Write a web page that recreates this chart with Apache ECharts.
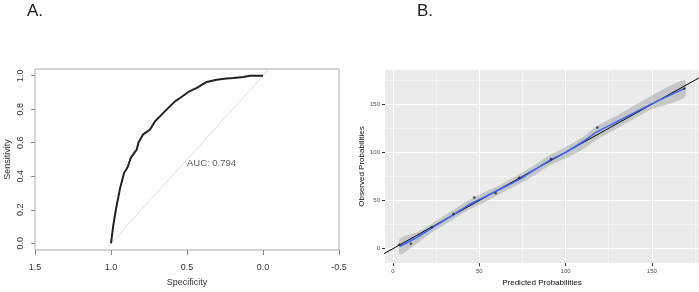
<!DOCTYPE html>
<html>
<head>
<meta charset="utf-8">
<script src="https://cdn.jsdelivr.net/npm/echarts@6/dist/echarts.min.js"></script>
<style>
  html, body { margin: 0; padding: 0; background: #fff; }
  #chart { width: 699px; height: 292px; }
</style>
</head>
<body>
<div id="chart"></div>
<script>
// A. ROC curve
const rocSpec = [1.0, 0.985, 0.967, 0.941, 0.914, 0.89, 0.87, 0.83, 0.82, 0.788, 0.743, 0.71, 0.667, 0.623, 0.579, 0.546, 0.491, 0.436, 0.37, 0.305, 0.24, 0.195, 0.13, 0.086, 0.0]
const rocSens = [0, 0.107, 0.206, 0.325, 0.42, 0.455, 0.51, 0.56, 0.6, 0.65, 0.679, 0.728, 0.768, 0.808, 0.847, 0.867, 0.903, 0.927, 0.963, 0.976, 0.984, 0.986, 0.992, 1.0, 1.0]
const chanceSpec = [1.04, -0.04]
const chanceSens = [-0.04, 1.04]
const sensTicks = [0, 0.2, 0.4, 0.6, 0.8, 1.0]
const aucPos = [0.5, 0.476]
const aucText = 'AUC: 0.794'

// B. calibration
const decPred = [3.7, 10.4, 22.5, 35, 47.1, 59.5, 73.2, 91.5, 118.4, 168.8]
const decObs = [4, 5, 22.3, 36, 53, 57.5, 73.5, 93.2, 125.8, 166.4]
const fitX = [4, 13.7, 23, 33, 43, 52, 62, 72, 81, 91, 99, 110, 118, 130, 149, 169]
const fitY = [2.5, 11.6, 22, 33, 44.5, 52.8, 61.7, 70.8, 80.7, 92, 99, 111, 121, 132, 149.5, 166.4]
const fitLo = [-6, 5.2, 17.4, 28.2, 39.6, 47.2, 56.8, 66, 75.2, 86.5, 93, 103, 113, 125, 144, 157]
const fitHi = [10.5, 16.8, 26.5, 38, 49.5, 57.8, 66, 75.9, 85.7, 97.3, 104.5, 116, 127, 138.5, 158, 175]
const idX = [-10, 190]
const majorTicks = [0, 50, 100, 150]
const minorTicks = [25, 75, 125, 175]

const chart = echarts.init(document.getElementById('chart'))
const zip = (a, b) => a.map((v, i) => [v, b[i]])

chart.setOption({
  animation: false,
  textStyle: { fontFamily: 'Liberation Sans, Arial, sans-serif' },
  title: [
    { text: 'A.', left: 22, top: -2, textStyle: { fontSize: 17, fontWeight: 'normal', color: '#222' } },
    { text: 'B.', left: 412, top: -2, textStyle: { fontSize: 17, fontWeight: 'normal', color: '#222' } },
  ],
  grid: [
    { left: 35, top: 69, width: 304, height: 181, show: true, borderColor: '#aaa', borderWidth: 1, backgroundColor: 'transparent' },
    { left: 385, top: 70, width: 314, height: 203, show: true, borderWidth: 0, backgroundColor: '#EBEBEB' },
  ],
  xAxis: [
    {
      gridIndex: 0, type: 'value', inverse: true, min: -0.5, max: 1.5, interval: 0.5,
      name: 'Specificity', nameLocation: 'middle', nameGap: 28,
      nameTextStyle: { fontSize: 9, color: '#333' },
      axisLine: { show: false, onZero: false },
      axisTick: { show: true, length: 5, lineStyle: { color: '#888' } },
      axisLabel: { fontSize: 9, color: '#333', margin: 13, formatter: v => v.toFixed(1) },
      splitLine: { show: false },
    },
    {
      gridIndex: 1, type: 'value', min: -4.6, max: 177.3,
      name: 'Predicted Probabilities', nameLocation: 'middle', nameGap: 11,
      nameTextStyle: { fontSize: 8, color: '#111' },
      axisLine: { show: false, onZero: false },
      axisTick: { show: true, length: 3, customValues: majorTicks, lineStyle: { color: '#333' } },
      axisLabel: { fontSize: 6, color: '#4D4D4D', margin: 5, customValues: majorTicks },
      splitLine: { show: true, lineStyle: { color: '#fff', width: 1 } },
    },
  ],
  yAxis: [
    {
      gridIndex: 0, type: 'value', min: -0.04, max: 1.04,
      name: 'Sensitivity', nameLocation: 'middle', nameGap: 23, nameRotate: 90,
      nameTextStyle: { fontSize: 9, color: '#333' },
      axisLine: { show: false, onZero: false },
      axisTick: { show: true, length: 4, customValues: sensTicks, lineStyle: { color: '#888' } },
      axisLabel: { fontSize: 9, color: '#333', rotate: 90, margin: 10, customValues: sensTicks, formatter: v => v.toFixed(1) },
      splitLine: { show: false },
    },
    {
      gridIndex: 1, type: 'value', min: -15, max: 185.5,
      name: 'Observed Probabilities', nameLocation: 'middle', nameGap: 13, nameRotate: 90,
      nameTextStyle: { fontSize: 8, color: '#111' },
      axisLine: { show: false, onZero: false },
      axisTick: { show: true, length: 3, customValues: majorTicks, lineStyle: { color: '#333' } },
      axisLabel: { fontSize: 6, color: '#4D4D4D', margin: 5, customValues: majorTicks },
      splitLine: { show: true, lineStyle: { color: '#fff', width: 1 } },
    },
  ],
  series: [
    {
      type: 'line', xAxisIndex: 0, yAxisIndex: 0, data: zip(chanceSpec, chanceSens),
      showSymbol: false, lineStyle: { color: '#ddd', width: 1 }, z: 1,
    },
    {
      type: 'line', xAxisIndex: 0, yAxisIndex: 0, data: zip(rocSpec, rocSens),
      showSymbol: false, lineStyle: { color: '#222', width: 2 }, z: 3,
    },
    {
      type: 'scatter', xAxisIndex: 0, yAxisIndex: 0, data: [aucPos], symbolSize: 0,
      label: { show: true, position: 'right', distance: 0, formatter: aucText, fontSize: 9.5, color: '#333' },
    },
    {
      type: 'line', xAxisIndex: 1, yAxisIndex: 1, data: [], showSymbol: false,
      markLine: {
        silent: true, symbol: 'none', z: 1, label: { show: false },
        lineStyle: { color: '#fff', width: 0.5, type: 'solid' },
        data: minorTicks.map(v => ({ xAxis: v })).concat(minorTicks.map(v => ({ yAxis: v }))),
      },
    },
    {
      type: 'custom', xAxisIndex: 1, yAxisIndex: 1, data: [[fitX[0], fitY[0]]], z: 2,
      renderItem: (params, api) => {
        const up = fitX.map((x, i) => api.coord([x, fitHi[i]]))
        const lo = fitX.map((x, i) => api.coord([x, fitLo[i]])).reverse()
        return { type: 'polygon', shape: { points: up.concat(lo), smooth: 0.2 }, style: { fill: 'rgba(153,153,153,0.45)' } }
      },
    },
    {
      type: 'line', xAxisIndex: 1, yAxisIndex: 1, data: zip(idX, idX), clip: true,
      showSymbol: false, lineStyle: { color: '#000', width: 1 }, z: 4,
    },
    {
      type: 'line', xAxisIndex: 1, yAxisIndex: 1, data: zip(fitX, fitY), smooth: 0.3,
      showSymbol: false, lineStyle: { color: '#3366FF', width: 1.5 }, z: 5,
    },
    {
      type: 'scatter', xAxisIndex: 1, yAxisIndex: 1, data: zip(decPred, decObs),
      symbolSize: 2.5, itemStyle: { color: '#222' }, z: 6,
    },
  ],
})
</script>
</body>
</html>
